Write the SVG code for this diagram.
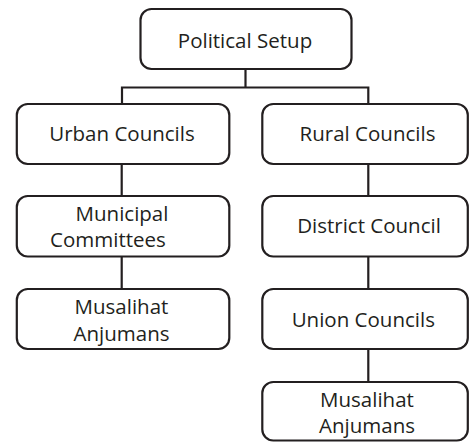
<svg xmlns="http://www.w3.org/2000/svg" width="469" height="442" viewBox="0 0 469 442">
<style>
.box{fill:#fff;stroke:#231f20;stroke-width:2.2}
.t{font-family:"Open Sans","Liberation Sans",sans-serif;font-size:20.5px;fill:#231f20;text-anchor:middle}
.c{fill:none;stroke:#231f20;stroke-width:2.2}
</style>
<rect width="469" height="442" fill="#fff"/>
<g id="connectors">
<path class="c" d="M245.5 70V87.5M122 87.5H368.3M122 86.5V104M368.3 86.5V104"/>
<path class="c" d="M121.7 164V196M121.7 257V289"/>
<path class="c" d="M368.3 164V196M368.3 257V289M368.3 349V382"/>
</g>
<g id="political-setup">
<rect class="box" x="140.5" y="9" width="211" height="60" rx="11"/>
<text class="t" x="245" y="47.5">Political Setup</text>
</g>
<g id="urban-councils">
<rect class="box" x="16.8" y="104" width="212.5" height="60" rx="11"/>
<text class="t" x="122" y="140.7">Urban Councils</text>
</g>
<g id="rural-councils">
<rect class="box" x="262.3" y="104" width="205.5" height="60" rx="11"/>
<text class="t" x="367.5" y="140.7">Rural Councils</text>
</g>
<g id="municipal-committees">
<rect class="box" x="16.8" y="196" width="212.5" height="60.5" rx="11"/>
<text class="t" x="122" y="221">Municipal</text>
<text class="t" x="108" y="246.7">Committees</text>
</g>
<g id="musalihat-anjumans-urban">
<rect class="box" x="16.8" y="289" width="212.5" height="60" rx="11"/>
<text class="t" x="121.5" y="314.3">Musalihat</text>
<text class="t" x="121.5" y="340.7">Anjumans</text>
</g>
<g id="district-council">
<rect class="box" x="262.3" y="196" width="205.5" height="60.5" rx="11"/>
<text class="t" x="369" y="233.3">District Council</text>
</g>
<g id="union-councils">
<rect class="box" x="262.3" y="289" width="205.5" height="60" rx="11"/>
<text class="t" x="363.3" y="327.3">Union Councils</text>
</g>
<g id="musalihat-anjumans-rural">
<rect class="box" x="262.3" y="382" width="205.5" height="58.5" rx="11"/>
<text class="t" x="367" y="406.7">Musalihat</text>
<text class="t" x="367" y="433.3">Anjumans</text>
</g>
</svg>
